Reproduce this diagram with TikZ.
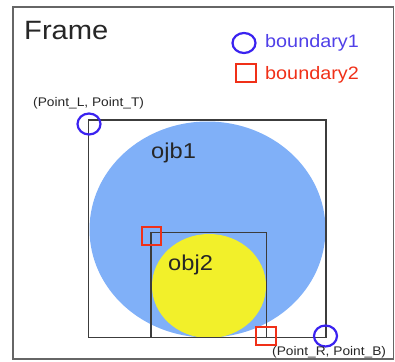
\documentclass[tikz,border=0pt]{standalone}
\usepackage{fontspec}
\setmainfont{Liberation Sans}
\definecolor{objblue}{HTML}{80B0F8}
\definecolor{objyellow}{HTML}{F2F02A}
\definecolor{bdblue}{HTML}{3A22F0}
\definecolor{bdred}{HTML}{F03018}
\definecolor{txtblue}{HTML}{5040E8}
\definecolor{boxgray}{HTML}{3C3C3C}
\begin{document}
\begin{tikzpicture}[x=1pt,y=-1pt,
  boxline/.style={draw=boxgray,line width=1.6pt},
  bdone/.style={draw=bdblue,line width=2.2pt},
  bdtwo/.style={draw=bdred,line width=2pt},
  lbl/.style={inner sep=0pt,anchor=base west,xscale=1.1}]
\useasboundingbox (0,0) rectangle (395,361);
% outer frame
\draw[draw=gray!80!black,line width=1.6pt] (13,7) rectangle (393.5,359);
\node[lbl,text=black!85,font=\fontsize{26.5}{30}\selectfont] (frame) at (24,40) {Frame};
% legend
\draw[bdone] (244,43) ellipse [x radius=11.5, y radius=10];
\node[lbl,text=txtblue,font=\fontsize{18}{21}\selectfont] (lg1) at (265,48) {boundary1};
\draw[bdtwo] (235.5,63.5) rectangle (255.5,82);
\node[lbl,text=bdred,font=\fontsize{18}{21}\selectfont] (lg2) at (265,79) {boundary2};
% objects
\fill[objblue] (207.5,229.5) ellipse [x radius=118, y radius=108];
\fill[objyellow] (209,286) ellipse [x radius=57, y radius=52];
\draw[boxline] (88.5,120) rectangle (326,337.5);
\draw[boxline] (151,232.5) rectangle (266.5,337.5);
\node[lbl,text=black!85,font=\fontsize{21.5}{25}\selectfont] (o1) at (151,158) {ojb1};
\node[lbl,text=black!85,font=\fontsize{21.5}{25}\selectfont] (o2) at (168,270) {obj2};
% boundaries
\draw[bdtwo] (141.5,226.5) rectangle (161,245);
\draw[bdtwo] (256,326.5) rectangle (276,345);
\draw[bdone] (89,124) ellipse [x radius=11.5, y radius=10.5];
\draw[bdone] (325.5,336) ellipse [x radius=11.5, y radius=10.5];
\node[lbl,text=black!85,font=\fontsize{12.5}{15}\selectfont] (ptl) at (33,106) {(Point\_L, Point\_T)};
\node[lbl,text=black!85,font=\fontsize{12.5}{15}\selectfont] (prb) at (272,355) {(Point\_R, Point\_B)};
\end{tikzpicture}
\end{document}
